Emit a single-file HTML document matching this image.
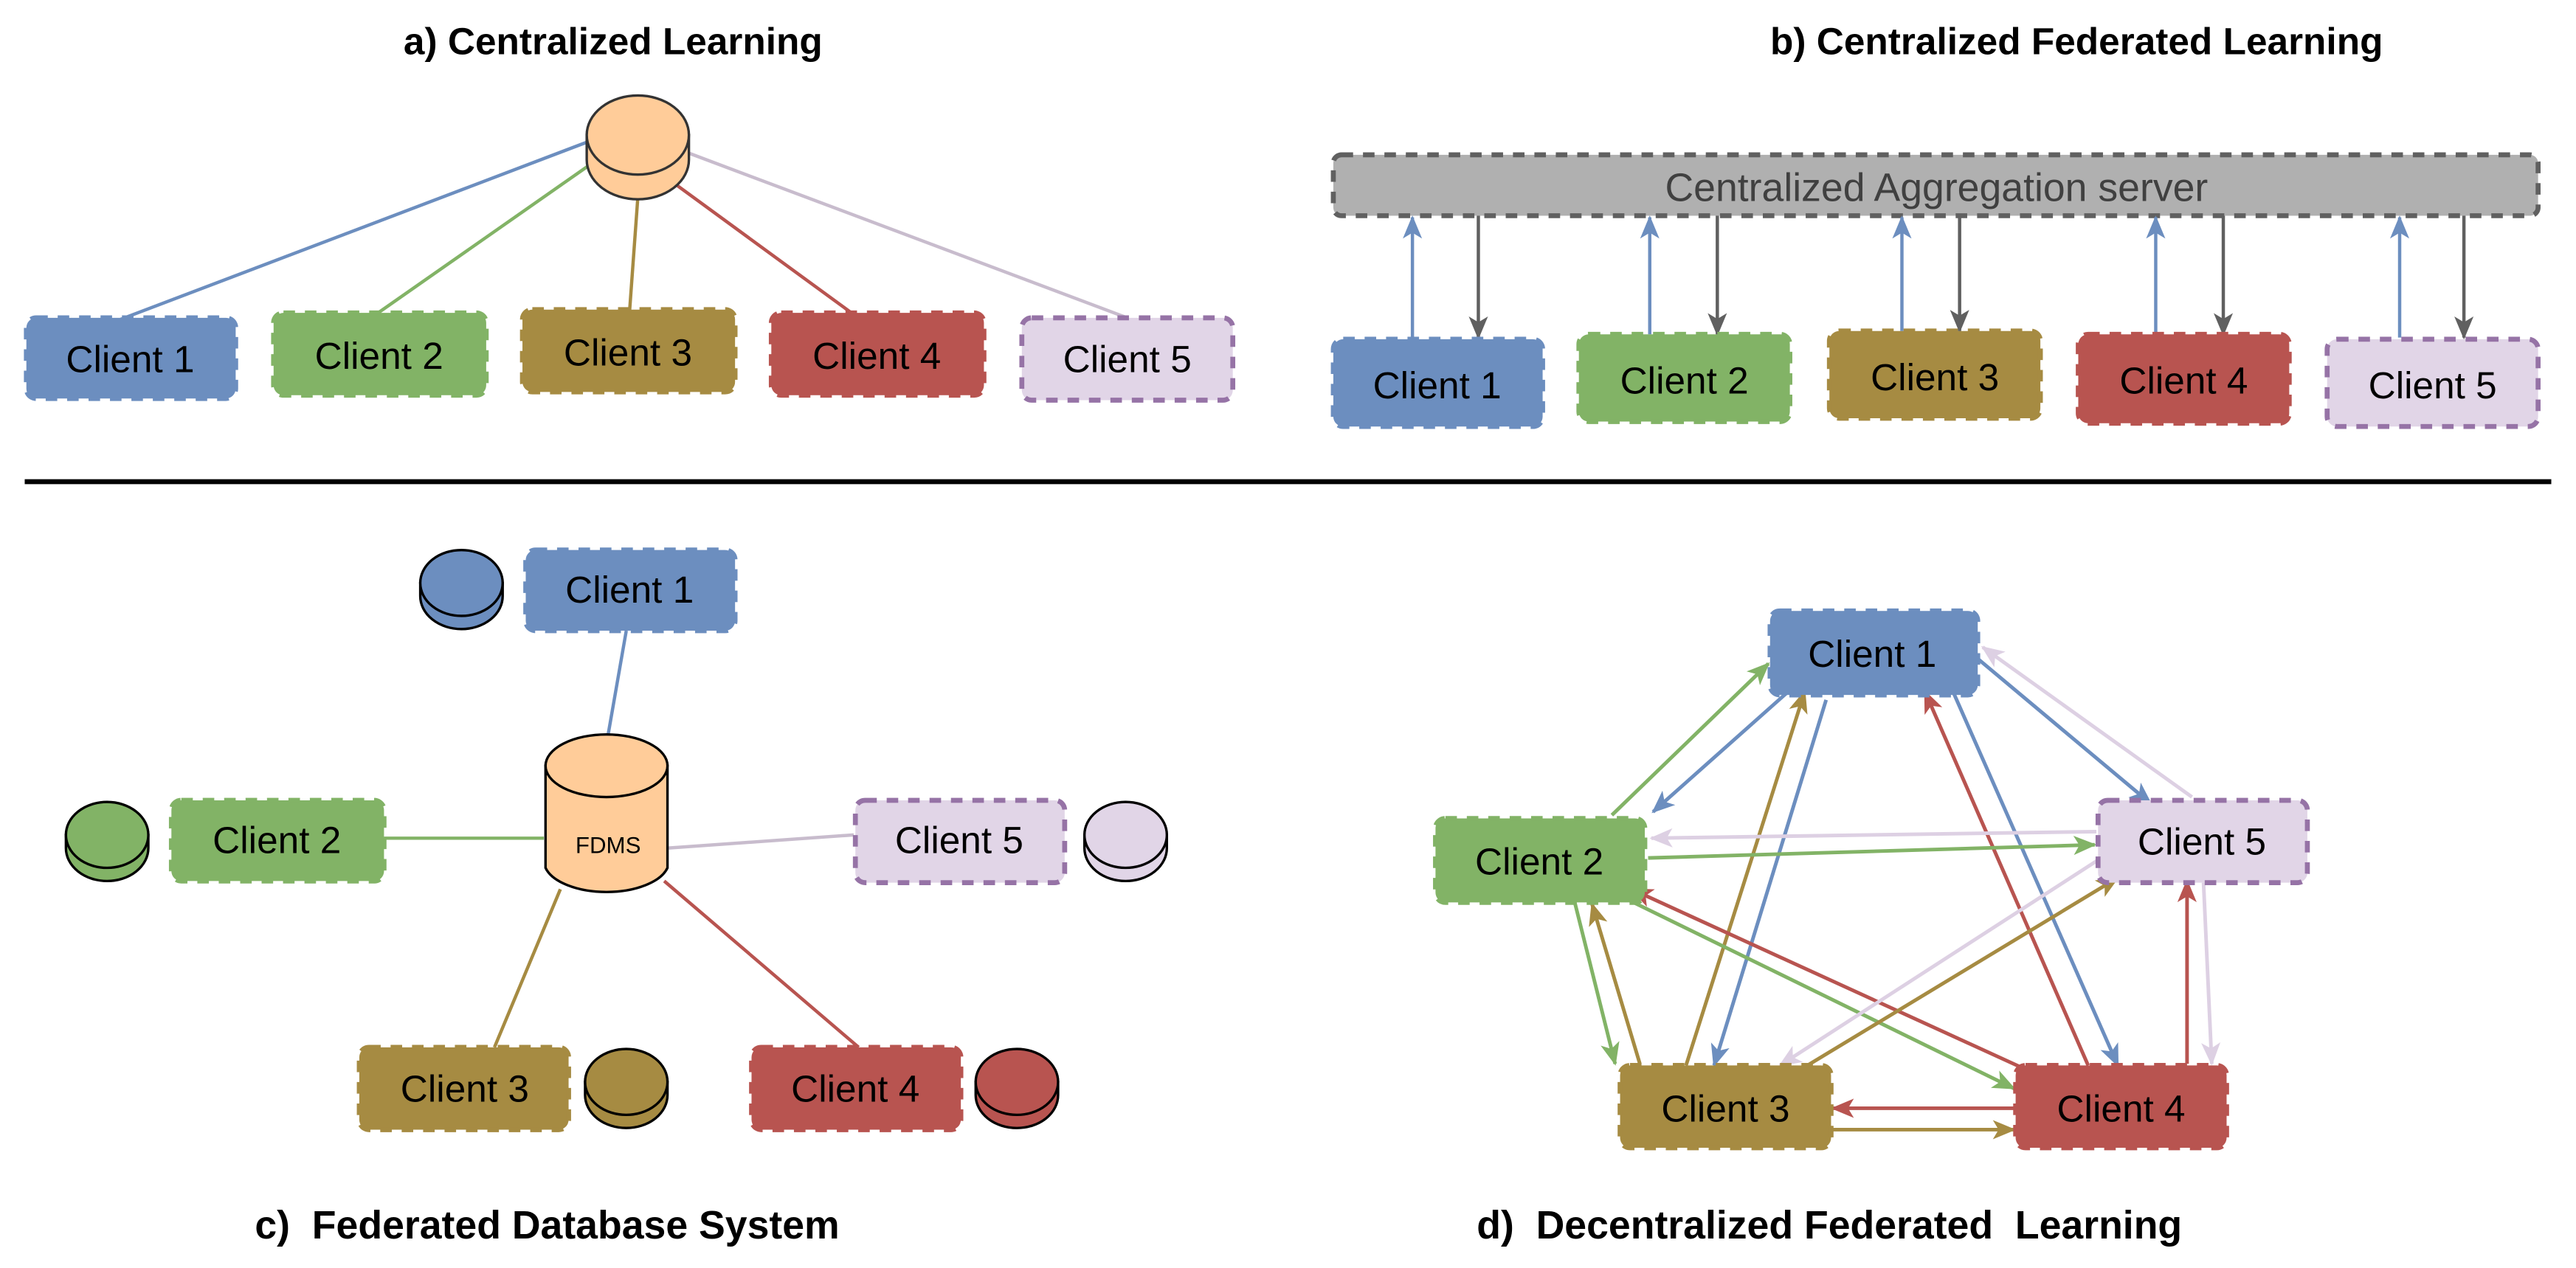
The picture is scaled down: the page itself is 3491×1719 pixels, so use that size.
<!DOCTYPE html>
<html><head><meta charset="utf-8"><style>
html,body{margin:0;padding:0;background:#fff;}
svg{display:block;}
text{font-family:"Liberation Sans",Arial,sans-serif;}
.t{font-weight:bold;font-size:23px;}
.t2{font-weight:bold;font-size:24px;}
.c{font-size:23px;fill:#000;}
</style></head><body>
<svg width="3491" height="1719" viewBox="0 0 1563 770" preserveAspectRatio="none" xmlns="http://www.w3.org/2000/svg">
<defs>
<marker id="ab" viewBox="0 0 12 10" refX="11" refY="5" markerWidth="14" markerHeight="12" orient="auto" markerUnits="userSpaceOnUse"><path d="M0,0 L12,5 L0,10 L3,5 z" fill="#6c8ebf"/></marker>
<marker id="ag" viewBox="0 0 12 10" refX="11" refY="5" markerWidth="14" markerHeight="12" orient="auto" markerUnits="userSpaceOnUse"><path d="M0,0 L12,5 L0,10 L3,5 z" fill="#82b366"/></marker>
<marker id="ao" viewBox="0 0 12 10" refX="11" refY="5" markerWidth="14" markerHeight="12" orient="auto" markerUnits="userSpaceOnUse"><path d="M0,0 L12,5 L0,10 L3,5 z" fill="#a68b42"/></marker>
<marker id="ar" viewBox="0 0 12 10" refX="11" refY="5" markerWidth="14" markerHeight="12" orient="auto" markerUnits="userSpaceOnUse"><path d="M0,0 L12,5 L0,10 L3,5 z" fill="#b85450"/></marker>
<marker id="al" viewBox="0 0 12 10" refX="11" refY="5" markerWidth="14" markerHeight="12" orient="auto" markerUnits="userSpaceOnUse"><path d="M0,0 L12,5 L0,10 L3,5 z" fill="#ddd0e3"/></marker>
<marker id="ay" viewBox="0 0 12 10" refX="11" refY="5" markerWidth="14" markerHeight="12" orient="auto" markerUnits="userSpaceOnUse"><path d="M0,0 L12,5 L0,10 L3,5 z" fill="#606060"/></marker>
</defs>

<!-- titles -->
<text class="t" x="372" y="33" text-anchor="middle">a) Centralized Learning</text>
<text class="t" x="1260" y="33" text-anchor="middle">b) Centralized Federated Learning</text>
<text class="t2" x="332" y="752" text-anchor="middle" xml:space="preserve">c)  Federated Database System</text>
<text class="t2" x="1110" y="752" text-anchor="middle" xml:space="preserve">d)  Decentralized Federated  Learning</text>

<!-- separator -->
<rect x="15" y="291" width="1533" height="3" fill="#000"/>

<!-- ===== a ===== -->
<g stroke-width="2" fill="none">
<line x1="357" y1="86" x2="73" y2="194" stroke="#6c8ebf"/>
<line x1="358" y1="100" x2="228" y2="191" stroke="#82b366"/>
<line x1="387" y1="120" x2="382" y2="189" stroke="#a68b42"/>
<line x1="410" y1="112" x2="518" y2="191" stroke="#b85450"/>
<line x1="418" y1="93" x2="684" y2="193" stroke="#c8bccd"/>
</g>
<g stroke="#333" stroke-width="1.5">
<path d="M356,82 L356,97 A31,24 0 0 0 418,97 L418,82 Z" fill="#ffcc99"/>
<ellipse cx="387" cy="82" rx="31" ry="24" fill="#ffcc99"/>
</g>

<g stroke-width="3" stroke-dasharray="7,6">
<rect x="16" y="193" width="127" height="49" rx="6" fill="#6c8ebf" stroke="#6c8ebf"/>
<rect x="166" y="190" width="129" height="50" rx="6" fill="#82b366" stroke="#82b366"/>
<rect x="317" y="188" width="129" height="50" rx="6" fill="#a68b42" stroke="#a68b42"/>
<rect x="468" y="190" width="129" height="50" rx="6" fill="#b85450" stroke="#b85450"/>
<rect x="620" y="193" width="128" height="50" rx="6" fill="#e1d5e7" stroke="#9673a6"/>
</g>
<text class="c" x="79" y="226" text-anchor="middle">Client 1</text>
<text class="c" x="230" y="224" text-anchor="middle">Client 2</text>
<text class="c" x="381" y="222" text-anchor="middle">Client 3</text>
<text class="c" x="532" y="224" text-anchor="middle">Client 4</text>
<text class="c" x="684" y="226" text-anchor="middle">Client 5</text>

<!-- ===== b ===== -->
<rect x="809" y="94" width="731" height="37" rx="5" fill="#b0b0b0" stroke="#606060" stroke-width="3" stroke-dasharray="7,6"/>
<text x="1175" y="122" text-anchor="middle" font-size="24" fill="#404040">Centralized Aggregation server</text>
<g stroke-width="2">
<line x1="857" y1="205" x2="857" y2="132" stroke="#6c8ebf" marker-end="url(#ab)"/>
<line x1="897" y1="131" x2="897" y2="205" stroke="#606060" marker-end="url(#ay)"/>
<line x1="1001" y1="203" x2="1001" y2="132" stroke="#6c8ebf" marker-end="url(#ab)"/>
<line x1="1042" y1="131" x2="1042" y2="203" stroke="#606060" marker-end="url(#ay)"/>
<line x1="1154" y1="201" x2="1154" y2="132" stroke="#6c8ebf" marker-end="url(#ab)"/>
<line x1="1189" y1="131" x2="1189" y2="201" stroke="#606060" marker-end="url(#ay)"/>
<line x1="1308" y1="203" x2="1308" y2="132" stroke="#6c8ebf" marker-end="url(#ab)"/>
<line x1="1349" y1="131" x2="1349" y2="203" stroke="#606060" marker-end="url(#ay)"/>
<line x1="1456" y1="205" x2="1456" y2="132" stroke="#6c8ebf" marker-end="url(#ab)"/>
<line x1="1495" y1="131" x2="1495" y2="205" stroke="#606060" marker-end="url(#ay)"/>
</g>
<g stroke-width="3" stroke-dasharray="7,6">
<rect x="809" y="206" width="127" height="53" rx="6" fill="#6c8ebf" stroke="#6c8ebf"/>
<rect x="958" y="203" width="128" height="53" rx="6" fill="#82b366" stroke="#82b366"/>
<rect x="1110" y="201" width="128" height="53" rx="6" fill="#a68b42" stroke="#a68b42"/>
<rect x="1261" y="203" width="128" height="54" rx="6" fill="#b85450" stroke="#b85450"/>
<rect x="1412" y="206" width="128" height="53" rx="6" fill="#e1d5e7" stroke="#9673a6"/>
</g>
<text class="c" x="872" y="242" text-anchor="middle">Client 1</text>
<text class="c" x="1022" y="239" text-anchor="middle">Client 2</text>
<text class="c" x="1174" y="237" text-anchor="middle">Client 3</text>
<text class="c" x="1325" y="239" text-anchor="middle">Client 4</text>
<text class="c" x="1476" y="242" text-anchor="middle">Client 5</text>

<!-- ===== c ===== -->
<g stroke-width="2" fill="none">
<line x1="369" y1="446" x2="380" y2="383" stroke="#6c8ebf"/>
<line x1="233" y1="509" x2="330" y2="509" stroke="#82b366"/>
<line x1="405" y1="515" x2="518" y2="507" stroke="#c8bccd"/>
<line x1="340" y1="540" x2="300" y2="636" stroke="#a68b42"/>
<line x1="403" y1="535" x2="521" y2="636" stroke="#b85450"/>
</g>
<g stroke="#000" stroke-width="1.5">
<path d="M331,465 L331,527 A38,19 0 0 0 405,527 L405,465 Z" fill="#ffcc99"/>
<ellipse cx="368" cy="465" rx="37" ry="19" fill="#ffcc99"/>
</g>
<text x="369" y="518" text-anchor="middle" font-size="14">FDMS</text>

<g stroke="#000" stroke-width="1.5">
<path d="M255,354 L255,362 A25,20 0 0 0 305,362 L305,354 Z" fill="#6c8ebf"/><ellipse cx="280" cy="354" rx="25" ry="20" fill="#6c8ebf"/>
<path d="M40,507 L40,515 A25,20 0 0 0 90,515 L90,507 Z" fill="#82b366"/><ellipse cx="65" cy="507" rx="25" ry="20" fill="#82b366"/>
<path d="M658,507 L658,515 A25,20 0 0 0 708,515 L708,507 Z" fill="#e1d5e7"/><ellipse cx="683" cy="507" rx="25" ry="20" fill="#e1d5e7"/>
<path d="M355,657 L355,665 A25,20 0 0 0 405,665 L405,657 Z" fill="#a68b42"/><ellipse cx="380" cy="657" rx="25" ry="20" fill="#a68b42"/>
<path d="M592,657 L592,665 A25,20 0 0 0 642,665 L642,657 Z" fill="#b85450"/><ellipse cx="617" cy="657" rx="25" ry="20" fill="#b85450"/>
</g>
<g stroke-width="3" stroke-dasharray="7,6">
<rect x="319" y="334" width="127" height="49" rx="6" fill="#6c8ebf" stroke="#6c8ebf"/>
<rect x="104" y="486" width="129" height="49" rx="6" fill="#82b366" stroke="#82b366"/>
<rect x="519" y="486" width="127" height="50" rx="6" fill="#e1d5e7" stroke="#9673a6"/>
<rect x="218" y="636" width="127" height="50" rx="6" fill="#a68b42" stroke="#a68b42"/>
<rect x="456" y="636" width="127" height="50" rx="6" fill="#b85450" stroke="#b85450"/>
</g>
<text class="c" x="382" y="366" text-anchor="middle">Client 1</text>
<text class="c" x="168" y="518" text-anchor="middle">Client 2</text>
<text class="c" x="582" y="518" text-anchor="middle">Client 5</text>
<text class="c" x="282" y="669" text-anchor="middle">Client 3</text>
<text class="c" x="519" y="669" text-anchor="middle">Client 4</text>

<!-- ===== d ===== -->
<g stroke-width="2.2" fill="none">
<line x1="978" y1="495" x2="1073" y2="403" stroke="#82b366" marker-end="url(#ag)"/>
<line x1="1085" y1="420" x2="1003" y2="493" stroke="#6c8ebf" marker-end="url(#ab)"/>
<line x1="1330" y1="484" x2="1203" y2="393" stroke="#ddd0e3" marker-end="url(#al)"/>
<line x1="1200" y1="400" x2="1305" y2="488" stroke="#6c8ebf" marker-end="url(#ab)"/>
<line x1="1023" y1="647" x2="1095" y2="420" stroke="#a68b42" marker-end="url(#ao)"/>
<line x1="1108" y1="425" x2="1040" y2="647" stroke="#6c8ebf" marker-end="url(#ab)"/>
<line x1="1267" y1="647" x2="1168" y2="420" stroke="#b85450" marker-end="url(#ar)"/>
<line x1="1185" y1="420" x2="1285" y2="647" stroke="#6c8ebf" marker-end="url(#ab)"/>
<line x1="1272" y1="505" x2="1002" y2="509" stroke="#ddd0e3" marker-end="url(#al)"/>
<line x1="1000" y1="521" x2="1271" y2="513" stroke="#82b366" marker-end="url(#ag)"/>
<line x1="955" y1="546" x2="980" y2="646" stroke="#82b366" marker-end="url(#ag)"/>
<line x1="995" y1="646" x2="966" y2="549" stroke="#a68b42" marker-end="url(#ao)"/>
<line x1="985" y1="545" x2="1222" y2="661" stroke="#82b366" marker-end="url(#ag)"/>
<line x1="1237" y1="653" x2="990" y2="540" stroke="#b85450" marker-end="url(#ar)"/>
<line x1="1275" y1="521" x2="1080" y2="647" stroke="#ddd0e3" marker-end="url(#al)"/>
<line x1="1095" y1="648" x2="1285" y2="533" stroke="#a68b42" marker-end="url(#ao)"/>
<line x1="1327" y1="646" x2="1327" y2="535" stroke="#b85450" marker-end="url(#ar)"/>
<line x1="1337" y1="536" x2="1342" y2="646" stroke="#ddd0e3" marker-end="url(#al)"/>
<line x1="1222" y1="673" x2="1112" y2="673" stroke="#b85450" marker-end="url(#ar)"/>
<line x1="1112" y1="686" x2="1222" y2="686" stroke="#a68b42" marker-end="url(#ao)"/>
</g>
<g stroke-width="3" stroke-dasharray="7,6">
<rect x="1074" y="371" width="126" height="51" rx="6" fill="#6c8ebf" stroke="#6c8ebf"/>
<rect x="871" y="497" width="127" height="51" rx="6" fill="#82b366" stroke="#82b366"/>
<rect x="1273" y="486" width="127" height="50" rx="6" fill="#e1d5e7" stroke="#9673a6"/>
<rect x="983" y="647" width="128" height="50" rx="6" fill="#a68b42" stroke="#a68b42"/>
<rect x="1223" y="647" width="128" height="50" rx="6" fill="#b85450" stroke="#b85450"/>
</g>
<text class="c" x="1136" y="405" text-anchor="middle">Client 1</text>
<text class="c" x="934" y="531" text-anchor="middle">Client 2</text>
<text class="c" x="1336" y="519" text-anchor="middle">Client 5</text>
<text class="c" x="1047" y="681" text-anchor="middle">Client 3</text>
<text class="c" x="1287" y="681" text-anchor="middle">Client 4</text>
</svg>
</body></html>
